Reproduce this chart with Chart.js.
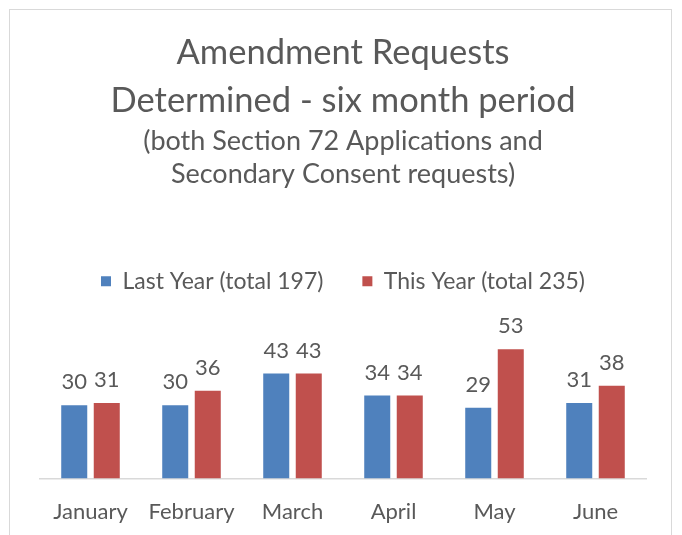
<!DOCTYPE html>
<html>
<head>
<meta charset="utf-8">
<script src="https://cdn.jsdelivr.net/npm/chart.js@4.4.1/dist/chart.umd.min.js"></script>
<style>
  html, body { margin: 0; padding: 0; background: #fff; }
  #wrap { width: 682px; height: 535px; }
</style>
</head>
<body>
<div id="wrap"><canvas id="myChart" width="682" height="535"></canvas></div>
<script>
// data
const months = ["January", "February", "March", "April", "May", "June"];
const lastYear = [30, 30, 43, 34, 29, 31];
const thisYear = [31, 36, 43, 34, 53, 38];
const seriesNames = ["Last Year (total 197)", "This Year (total 235)"];
const yMax = 72;

const textGrey = "#595959";
const fontName = "Lato, 'Liberation Sans', sans-serif";

// border round the chart, like the office export
const frame = {
  id: "frame",
  beforeDraw(chart) {
    const ctx = chart.ctx;
    ctx.save();
    ctx.fillStyle = "#fff";
    ctx.fillRect(0, 0, chart.width, chart.height);
    ctx.strokeStyle = "#d9d9d9";
    ctx.lineWidth = 1;
    ctx.strokeRect(9.5, 9.5, 662, 560);
    ctx.restore();
  }
};

// value on top of each bar
const barValues = {
  id: "barValues",
  afterDatasetsDraw(chart) {
    const ctx = chart.ctx;
    ctx.save();
    ctx.fillStyle = textGrey;
    ctx.font = "22px " + fontName;
    ctx.textAlign = "center";
    ctx.textBaseline = "alphabetic";
    chart.data.datasets.forEach((ds, i) => {
      chart.getDatasetMeta(i).data.forEach((bar, j) => {
        ctx.fillText(ds.data[j], bar.x, bar.y - 16);
      });
    });
    ctx.restore();
  }
};

new Chart(document.getElementById("myChart"), {
  type: "bar",
  data: {
    labels: months,
    datasets: [
      { label: seriesNames[0], data: lastYear, backgroundColor: "#4f81bd" },
      { label: seriesNames[1], data: thisYear, backgroundColor: "#c0504d" }
    ]
  },
  options: {
    responsive: false,
    animation: false,
    layout: { padding: { left: 40, right: 36, top: 29, bottom: -2 } },
    datasets: { bar: { categoryPercentage: 0.644, barPercentage: 0.8 } },
    plugins: {
      title: {
        display: true,
        text: ["Amendment Requests", "Determined - six month period"],
        color: textGrey,
        font: { family: fontName, size: 34.5, weight: "normal", lineHeight: 1.39 },
        padding: { top: 0, bottom: 0 }
      },
      subtitle: {
        display: true,
        text: ["(both Section 72 Applications and", "Secondary Consent requests)"],
        color: textGrey,
        font: { family: fontName, size: 27, weight: "normal", lineHeight: 1.22 },
        padding: { top: 0, bottom: 40 }
      },
      legend: {
        position: "top",
        labels: {
          color: textGrey,
          font: { family: fontName, size: 23 },
          boxWidth: 10,
          boxHeight: 10,
          padding: 39
        }
      },
      tooltip: { enabled: false }
    },
    scales: {
      x: {
        grid: { display: false },
        border: { display: true, color: "#d9d9d9", width: 1.5 },
        ticks: { color: textGrey, font: { family: fontName, size: 22 }, padding: 12 }
      },
      y: {
        display: false,
        min: 0,
        max: yMax
      }
    }
  },
  plugins: [frame, barValues]
});
</script>
</body>
</html>
